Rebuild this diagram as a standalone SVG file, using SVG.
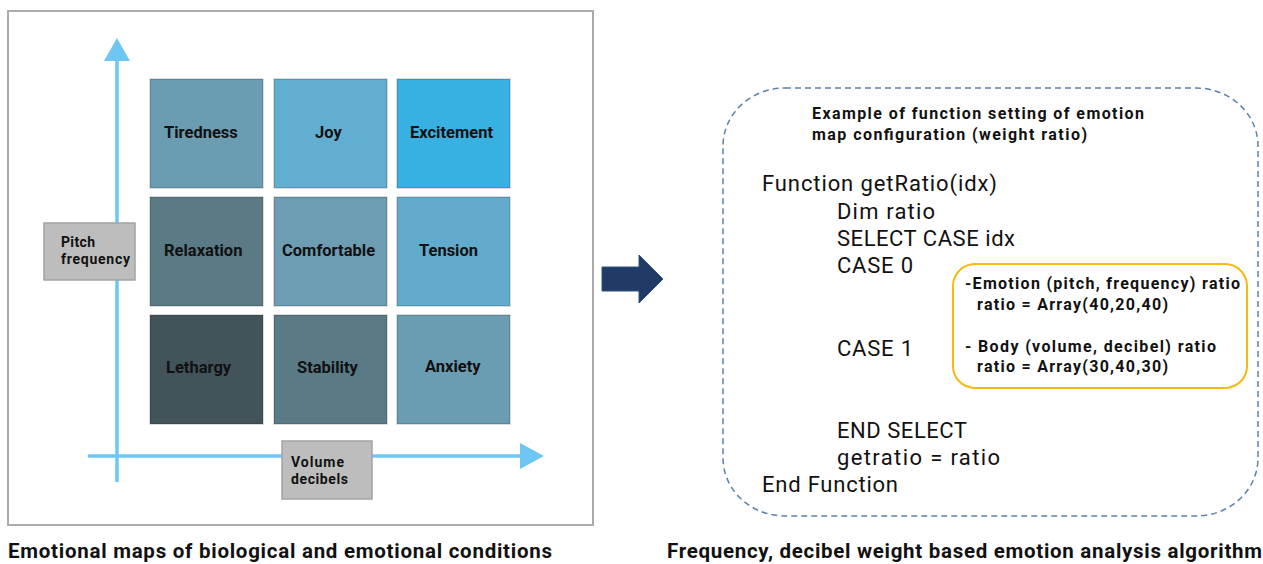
<svg xmlns="http://www.w3.org/2000/svg" width="1263" height="564" viewBox="0 0 1263 564">
  <defs>
    <style>
      .lbl { font-family: Roboto, "Noto Sans", sans-serif; font-weight: 700; fill: #111; }
      .cell-txt { font-size: 16.5px; }
      .axis-txt { font-size: 14px; }
      .code { font-family: Roboto, "Noto Sans", sans-serif; font-weight: 400; font-size: 22px; fill: #111; }
      .note { font-size: 16px; }
      .caption { font-size: 20.5px; }
      .cell { stroke: #000; stroke-opacity: 0.18; stroke-width: 1.5; }
      .axis { stroke: #6ec6f5; stroke-width: 3.5; fill: none; }
      .axis-head { fill: #6ec6f5; }
      .axis-box { fill: #bdbdbd; stroke: #a3a3a3; stroke-width: 1.5; }
    </style>
  </defs>

  <rect width="1263" height="564" fill="#ffffff"/>

  <!-- left panel frame -->
  <rect id="map-frame" x="8" y="11" width="585" height="514" fill="#ffffff" stroke="#ababab" stroke-width="2"/>

  <!-- axes -->
  <g id="connectors">
    <line class="axis" x1="117" y1="58" x2="117" y2="482"/>
    <polygon class="axis-head" points="117,38 104,61 130,61"/>
    <line class="axis" x1="88" y1="456" x2="522" y2="456"/>
    <polygon class="axis-head" points="544,456 520,443 520,469"/>
  </g>

  <!-- emotion grid -->
  <g id="cell-tiredness">
    <rect class="cell" x="150" y="79" width="113" height="109" fill="#6a9cb2"/>
    <text class="lbl cell-txt" x="164" y="138">Tiredness</text>
  </g>
  <g id="cell-joy">
    <rect class="cell" x="274" y="79" width="113" height="109" fill="#62aed0"/>
    <text class="lbl cell-txt" x="315" y="138">Joy</text>
  </g>
  <g id="cell-excitement">
    <rect class="cell" x="397" y="79" width="113" height="109" fill="#38b1e2"/>
    <text class="lbl cell-txt" x="410" y="138">Excitement</text>
  </g>
  <g id="cell-relaxation">
    <rect class="cell" x="150" y="197" width="113" height="109" fill="#5a7b86"/>
    <text class="lbl cell-txt" x="164" y="256">Relaxation</text>
  </g>
  <g id="cell-comfortable">
    <rect class="cell" x="274" y="197" width="113" height="109" fill="#6c9db3"/>
    <text class="lbl cell-txt" x="282" y="256">Comfortable</text>
  </g>
  <g id="cell-tension">
    <rect class="cell" x="397" y="197" width="113" height="109" fill="#62abcd"/>
    <text class="lbl cell-txt" x="419" y="256">Tension</text>
  </g>
  <g id="cell-lethargy">
    <rect class="cell" x="150" y="315" width="113" height="109" fill="#42535a"/>
    <text class="lbl cell-txt" x="166" y="373">Lethargy</text>
  </g>
  <g id="cell-stability">
    <rect class="cell" x="274" y="315" width="113" height="109" fill="#5a7a86"/>
    <text class="lbl cell-txt" x="297" y="373">Stability</text>
  </g>
  <g id="cell-anxiety">
    <rect class="cell" x="397" y="315" width="113" height="109" fill="#6a9cb2"/>
    <text class="lbl cell-txt" x="425" y="372">Anxiety</text>
  </g>

  <!-- axis labels -->
  <g id="label-pitch">
    <rect class="axis-box" x="44" y="223" width="91" height="57"/>
    <text class="lbl axis-txt" x="61" y="247" textLength="34" lengthAdjust="spacing">Pitch</text>
    <text class="lbl axis-txt" x="61" y="264" textLength="69" lengthAdjust="spacing">frequency</text>
  </g>
  <g id="label-volume">
    <rect class="axis-box" x="282" y="441" width="90" height="58"/>
    <text class="lbl axis-txt" x="291" y="467" textLength="53" lengthAdjust="spacing">Volume</text>
    <text class="lbl axis-txt" x="291" y="484" textLength="57" lengthAdjust="spacing">decibels</text>
  </g>

  <!-- block arrow between panels -->
  <g id="transition-arrow">
    <polygon points="602,267 639,267 639,255 663,279 639,303 639,291 602,291" fill="#203c66" stroke="#2d4f80" stroke-width="1"/>
  </g>

  <!-- algorithm panel -->
  <g id="algorithm-panel">
    <rect x="723" y="88" width="535" height="428" rx="62" ry="58" fill="none" stroke="#5b82aa" stroke-width="1.5" stroke-dasharray="6,4"/>
    <text class="lbl note" x="812" y="119" textLength="332" lengthAdjust="spacing">Example of function setting of emotion</text>
    <text class="lbl note" x="812" y="140" textLength="275" lengthAdjust="spacing">map configuration (weight ratio)</text>
    <text class="code" x="762" y="191" textLength="235" lengthAdjust="spacing">Function getRatio(idx)</text>
    <text class="code" x="837" y="219" textLength="98" lengthAdjust="spacing">Dim ratio</text>
    <text class="code" x="837" y="246" textLength="178" lengthAdjust="spacing">SELECT CASE idx</text>
    <text class="code" x="837" y="273" textLength="76" lengthAdjust="spacing">CASE 0</text>
    <text class="code" x="837" y="356" textLength="76" lengthAdjust="spacing">CASE 1</text>
    <text class="code" x="837" y="438" textLength="130" lengthAdjust="spacing">END SELECT</text>
    <text class="code" x="837" y="465" textLength="163" lengthAdjust="spacing">getratio = ratio</text>
    <text class="code" x="762" y="492" textLength="136" lengthAdjust="spacing">End Function</text>
  </g>

  <g id="ratio-box">
    <rect x="953" y="264" width="294" height="124" rx="22" ry="22" fill="#ffffff" stroke="#f6b912" stroke-width="2"/>
    <text class="lbl note" x="965" y="289" textLength="275" lengthAdjust="spacing">-Emotion (pitch, frequency) ratio</text>
    <text class="lbl note" x="977" y="310" textLength="191" lengthAdjust="spacing">ratio = Array(40,20,40)</text>
    <text class="lbl note" x="965" y="352" textLength="251" lengthAdjust="spacing">- Body (volume, decibel) ratio</text>
    <text class="lbl note" x="977" y="372" textLength="191" lengthAdjust="spacing">ratio = Array(30,40,30)</text>
  </g>

  <!-- captions -->
  <text id="caption-left" class="lbl caption" x="8" y="558" textLength="544" lengthAdjust="spacing">Emotional maps of biological and emotional conditions</text>
  <text id="caption-right" class="lbl caption" x="667" y="558" textLength="595" lengthAdjust="spacing">Frequency, decibel weight based emotion analysis algorithm</text>
</svg>
